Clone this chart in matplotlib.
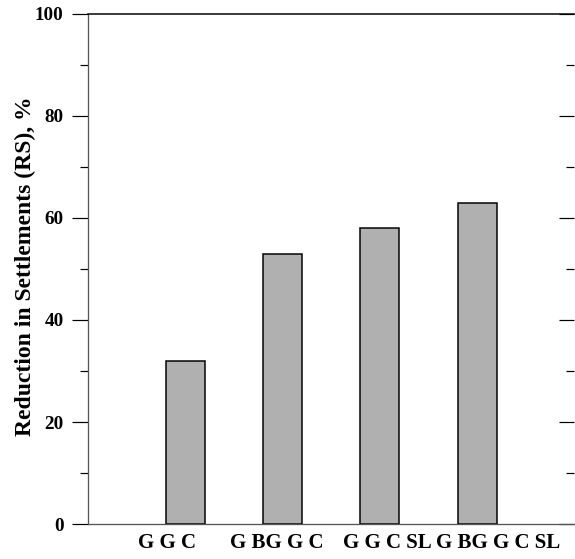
import numpy as np
import matplotlib
matplotlib.use("Agg")
import matplotlib.pyplot as plt
from matplotlib.ticker import MultipleLocator

# Settlement reduction for each reinforcement configuration
configs = ["G G C", "G BG G C", "G G C SL", "G BG G C SL"]
rs_pct = [32, 53, 58, 63]

plt.rcParams["font.family"] = ["Liberation Serif", "DejaVu Serif"]
plt.rcParams["font.weight"] = "bold"

PX = 72 / 100  # points per pixel at 100 dpi

fig = plt.figure(figsize=(5.75, 5.59), dpi=100)
ax = fig.add_axes([0.1525, 0.0626, 0.8465, 0.9124])

x = np.arange(len(configs))
ax.bar(x, rs_pct, width=0.4, color="#b0b0b0", edgecolor="black", linewidth=1.5 * PX)

ax.set_xlim(-1, 4)
ax.set_ylim(0, 100)

# category labels sit on an even grid slightly offset from the bars
ax.set_xticks(np.linspace(-0.19, 3.22, len(configs)))
ax.set_xticklabels(configs, fontsize=15, fontweight="bold")
ax.tick_params(axis="x", length=0, pad=9 * PX)

ax.yaxis.set_major_locator(MultipleLocator(20))
ax.yaxis.set_minor_locator(MultipleLocator(10))
ax.tick_params(axis="y", which="major", direction="out", length=16 * PX,
               width=1.2 * PX, labelsize=13.8, pad=8 * PX)
ax.tick_params(axis="y", which="minor", direction="out", length=8 * PX, width=1.2 * PX)
for lbl in ax.get_yticklabels():
    lbl.set_fontweight("bold")

# inward ticks along the right edge
sec = ax.secondary_yaxis("right")
sec.yaxis.set_major_locator(MultipleLocator(20))
sec.yaxis.set_minor_locator(MultipleLocator(10))
sec.tick_params(which="major", direction="in", length=15 * PX, width=1.2 * PX,
                labelright=False)
sec.tick_params(which="minor", direction="in", length=8 * PX, width=1.2 * PX)
sec.spines["right"].set_visible(False)
ax.spines["right"].set_visible(False)

ax.spines["top"].set_linewidth(1.5 * PX)
ax.spines["left"].set_linewidth(1.3 * PX)
ax.spines["bottom"].set_linewidth(1.3 * PX)
ax.spines["left"].set_color("#555555")
ax.spines["bottom"].set_color("#555555")

ax.set_ylabel("Reduction in Settlements (RS), %", fontsize=17, fontweight="bold")
ax.yaxis.set_label_coords(-0.106, 0.505)

fig.savefig("out.png", dpi=100, facecolor="white")
